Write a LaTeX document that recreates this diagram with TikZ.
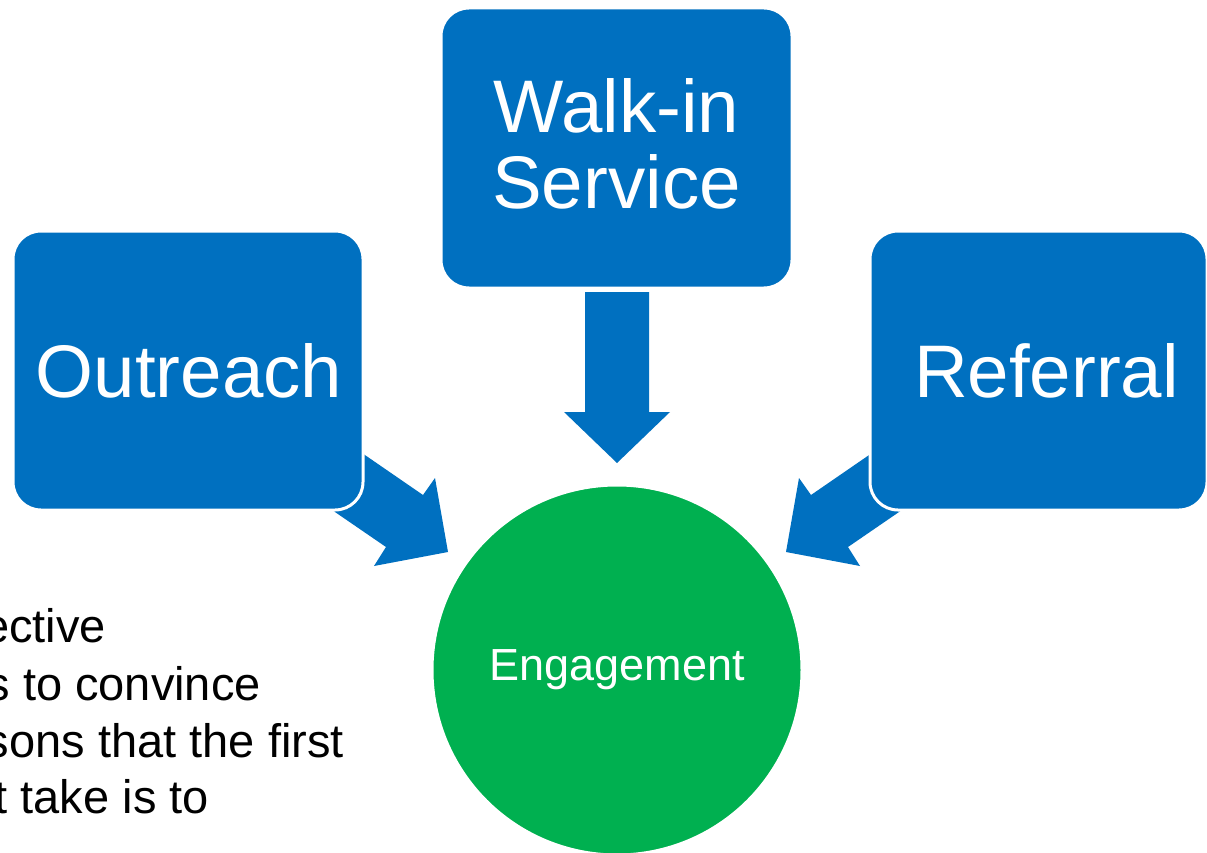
\documentclass[tikz,border=0pt]{standalone}
\usepackage{fontspec}
\setmainfont{Liberation Sans}
\definecolor{boxblue}{HTML}{0070C0}
\definecolor{enggreen}{HTML}{00B050}
\begin{document}
\begin{tikzpicture}[x=1pt,y=-1pt,
  blockbox/.style={rectangle, rounded corners=28pt, fill=boxblue, draw=white, line width=3pt, inner sep=0pt},
  boxlabel/.style={inner sep=0pt, text=white, font=\fontsize{74.5}{76}\selectfont, align=center},
  blockarrow/.style={fill=boxblue},
  hub/.style={circle, fill=enggreen, draw=white, line width=3pt, minimum size=370pt, inner sep=0pt,
    text=white, font=\fontsize{45}{50}\selectfont},
  sidetext/.style={anchor=base east, inner sep=0pt, text=black, font=\fontsize{47}{55}\selectfont}]
\clip (0,0) rectangle (1207,853);
\fill[white] (0,0) rectangle (1207,853);
% side text (partly cut off at the left edge)
\node[sidetext] (t1) at (106,642) {ective};
\node[sidetext] (t2) at (261,700) {s to convince};
\node[sidetext] (t3) at (344,757) {sons that the first};
\node[sidetext] (t4) at (209,813) {t take is to};
% block arrows
\fill[blockarrow] (585,292) -- (585,412) -- (564,412) -- (617,463) -- (670,412) -- (649,412) -- (649,292) -- cycle;
\fill[blockarrow] (330,431) -- (423,495) -- (435,478) -- (448,552) -- (374,566) -- (386,547) -- (300,488) -- cycle;
\fill[blockarrow] (904,431) -- (811,495) -- (799,478) -- (786,552) -- (860,566) -- (848,547) -- (934,488) -- cycle;
% boxes
\node[blockbox, minimum width=350pt, minimum height=279pt] (outreach) at (188,370.5) {};
\node[blockbox, minimum width=351pt, minimum height=280pt] (walkin) at (616.5,148) {};
\node[blockbox, minimum width=337pt, minimum height=279pt] (referral) at (1038.5,370.5) {};
\node[boxlabel] (outreachtext) at ([xshift=1pt]outreach.center) {Outreach};
\node[boxlabel] (walkintext) at ([yshift=4pt]walkin.center) {Walk-in\\Service};
\node[boxlabel] (referraltext) at ([xshift=8pt]referral.center) {Referral};
% hub
\node[hub] (engage) at (617,670) {Engagement};
\end{tikzpicture}
\end{document}
